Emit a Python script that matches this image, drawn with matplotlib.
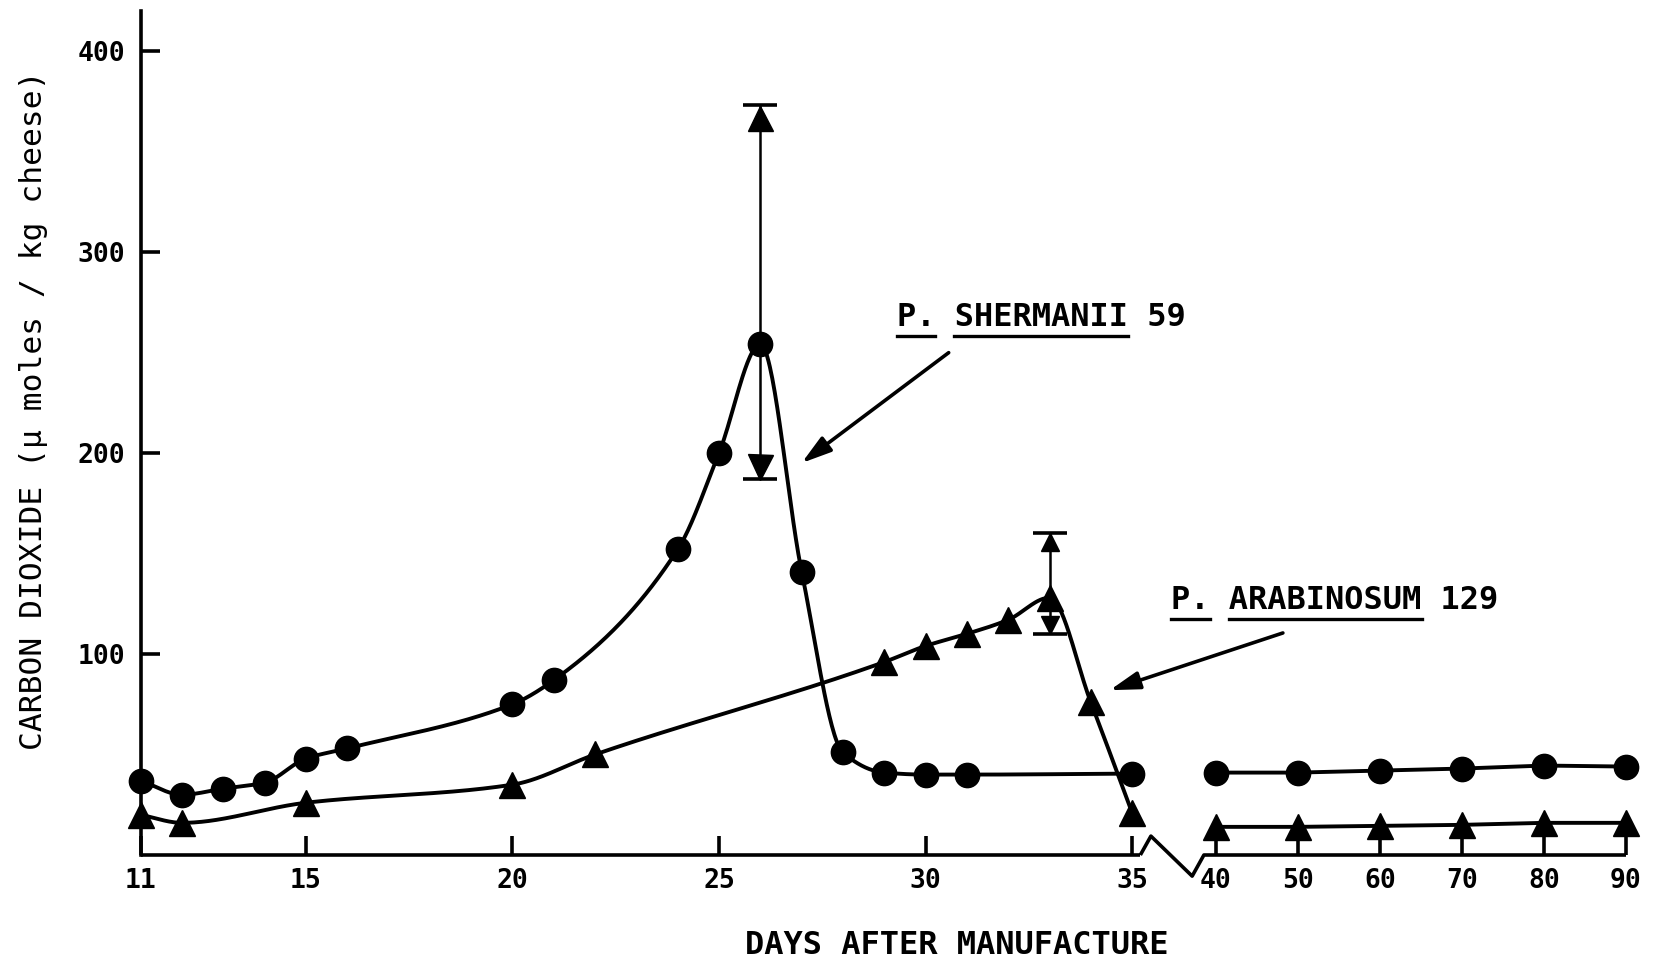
import numpy as np
import matplotlib
matplotlib.use("Agg")
import matplotlib.pyplot as plt
from matplotlib.transforms import ScaledTranslation
from matplotlib.lines import Line2D

# ---- data -------------------------------------------------------------
# P. shermanii 59 (circles)
sherm_days = [11, 12, 13, 14, 15, 16, 20, 21, 24, 25, 26, 27, 28, 29, 30, 31, 35]
sherm_vals = [37, 30, 33, 36, 48, 53, 75, 87, 152, 200, 254, 141, 51, 41, 40, 40, 40.5]
# P. arabinosum 129 (triangles)
arab_days = [11, 12, 15, 20, 22, 29, 30, 31, 32, 33, 34, 35]
arab_vals = [20, 16, 26, 35, 50, 96, 104, 110, 117, 128, 76, 21]
# long-term sampling after the axis break
late_days = [40, 50, 60, 70, 80, 90]
sherm_late = [41, 41, 42, 43, 44.5, 44]
arab_late = [14, 14, 14.5, 15, 16, 16]
# observed ranges at the two peaks
rng_days = [26, 33]
rng_center = [254, 128]
rng_low = [187, 110]
rng_high = [373, 160]

x_ticks = [11, 15, 20, 25, 30, 35, 40, 50, 60, 70, 80, 90]
y_ticks = [100, 200, 300, 400]

FONT = "DejaVu Sans Mono"
plt.rcParams["font.family"] = FONT


# ---- broken day axis: 11-35 daily, 40-90 compressed ------------------
def fwd(x):
    x = np.asarray(x, float)
    return np.where(x <= 35, x,
                    np.where(x >= 40, 37.03 + (x - 40) * 0.1985, 35 + (x - 35) * 0.406))


def inv(p):
    p = np.asarray(p, float)
    return np.where(p <= 35, p,
                    np.where(p >= 37.03, 40 + (p - 37.03) / 0.1985, 35 + (p - 35) / 0.406))


def pchip(x, y, xs):
    """Monotone cubic Hermite curve through the points."""
    x = np.asarray(x, float)
    y = np.asarray(y, float)
    h = np.diff(x)
    delta = np.diff(y) / h
    n = len(x)
    d = np.zeros(n)
    for k in range(1, n - 1):
        if delta[k - 1] * delta[k] > 0:
            w1 = 2 * h[k] + h[k - 1]
            w2 = h[k] + 2 * h[k - 1]
            d[k] = (w1 + w2) / (w1 / delta[k - 1] + w2 / delta[k])
    d[0] = delta[0]
    d[-1] = delta[-1]
    idx = np.clip(np.searchsorted(x, xs) - 1, 0, n - 2)
    t = (xs - x[idx]) / h[idx]
    h00 = 2 * t**3 - 3 * t**2 + 1
    h10 = t**3 - 2 * t**2 + t
    h01 = -2 * t**3 + 3 * t**2
    h11 = t**3 - t**2
    return h00 * y[idx] + h10 * h[idx] * d[idx] + h01 * y[idx + 1] + h11 * h[idx] * d[idx + 1]


fig = plt.figure(figsize=(16.59, 9.66), dpi=100)
ax = fig.add_axes([0.0848, 0.1149, 0.8953, 0.874])
ax.set_xscale("function", functions=(fwd, inv))
ax.set_xlim(11, 90)
ax.set_ylim(0, 420)

LW = 2.8
MS_C, MS_T = 17.5, 19
# smooth curves over the daily region
xs = np.linspace(11, 35, 800)
ax.plot(xs, pchip(sherm_days, sherm_vals, xs), color="k", lw=LW, clip_on=False, zorder=3)
ax.plot(xs, pchip(arab_days, arab_vals, xs), color="k", lw=LW, clip_on=False, zorder=3)
ax.plot(sherm_days, sherm_vals, "o", color="k", ms=MS_C, clip_on=False, zorder=5)
ax.plot(arab_days, arab_vals, "^", color="k", ms=MS_T, clip_on=False, zorder=5)

# long-term values
ax.plot(late_days, sherm_late, "-o", color="k", lw=LW, ms=MS_C, clip_on=False, zorder=5)
ax.plot(late_days, arab_late, "-^", color="k", lw=LW, ms=MS_T, clip_on=False, zorder=5)

# ranges drawn as capped bars with triangular heads
yerr = [np.subtract(rng_center, rng_low), np.subtract(rng_high, rng_center)]
ax.errorbar(rng_days, rng_center, yerr=yerr, fmt="none", ecolor="k",
            elinewidth=1.8, capsize=12, capthick=2.6, zorder=2)
head_sizes = [18, 13]
for d, lo, hi, s in zip(rng_days, rng_low, rng_high, head_sizes):
    up = ax.transData + ScaledTranslation(0, -s / 2 / 72, fig.dpi_scale_trans)
    dn = ax.transData + ScaledTranslation(0, s / 2 / 72, fig.dpi_scale_trans)
    ax.plot([d], [hi], marker="^", color="k", ms=s, transform=up, clip_on=False, zorder=4)
    ax.plot([d], [lo], marker="v", color="k", ms=s, transform=dn, clip_on=False, zorder=4)

# axis lines with the break symbol
ax.spines[["top", "right", "bottom"]].set_visible(False)
ax.spines["left"].set_linewidth(2.6)
axis_kw = dict(color="k", lw=2.6, clip_on=False, solid_capstyle="butt", zorder=3)
ax.plot([11, 35.49], [0, 0], **axis_kw)
ax.plot([35.49, 36.12, 38.58, 39.28, 90], [0, 9.4, -10.5, 0, 0], **axis_kw)

ax.set_xticks(x_ticks)
ax.set_xticklabels([str(t) for t in x_ticks], fontweight="bold")
ax.set_yticks(y_ticks)
ax.set_yticklabels([str(t) for t in y_ticks], fontweight="bold")
ax.minorticks_off()
ax.tick_params(axis="x", direction="in", length=14, width=2.6, pad=9, labelsize=19)
ax.tick_params(axis="y", direction="in", length=14, width=2.6, pad=11, labelsize=19)

fig.text(34 / 1659, 1 - 410 / 966, "CARBON DIOXIDE (µ moles / kg cheese)",
         rotation=90, ha="center", va="center", fontsize=22.5)
fig.text(957 / 1659, 1 - 945 / 966, "DAYS AFTER MANUFACTURE",
         ha="center", va="center", fontsize=23, fontweight="bold")

# strain labels with pointers
t1 = ax.text(0.509, 0.637, "P. SHERMANII 59", transform=ax.transAxes,
             ha="left", va="center", fontsize=23, fontweight="bold")
t2 = ax.text(0.694, 0.302, "P. ARABINOSUM 129", transform=ax.transAxes,
             ha="left", va="center", fontsize=23, fontweight="bold")
arrow_kw = dict(arrowstyle="-|>,head_length=0.6,head_width=0.18", color="k",
                lw=2.6, mutation_scale=30, shrinkA=0, shrinkB=0)
ax.annotate("", xy=(27.0, 195), xycoords="data", xytext=(0.544, 0.595),
            textcoords="axes fraction", arrowprops=arrow_kw)
ax.annotate("", xy=(34.46, 82), xycoords="data", xytext=(0.769, 0.263),
            textcoords="axes fraction", arrowprops=arrow_kw)

# underline the genus and species words
fig.canvas.draw()
renderer = fig.canvas.get_renderer()
W, H = fig.bbox.width, fig.bbox.height
for txt, spans in [(t1, [(0, 2), (3, 12)]), (t2, [(0, 2), (3, 13)])]:
    bb = txt.get_window_extent(renderer)
    cw = bb.width / len(txt.get_text())
    yline = bb.y0 - 3
    for i0, i1 in spans:
        fig.add_artist(Line2D([(bb.x0 + i0 * cw) / W, (bb.x0 + i1 * cw) / W],
                              [yline / H, yline / H], color="k", lw=2.4,
                              transform=fig.transFigure))

fig.savefig("out.png", dpi=100, facecolor="white")
